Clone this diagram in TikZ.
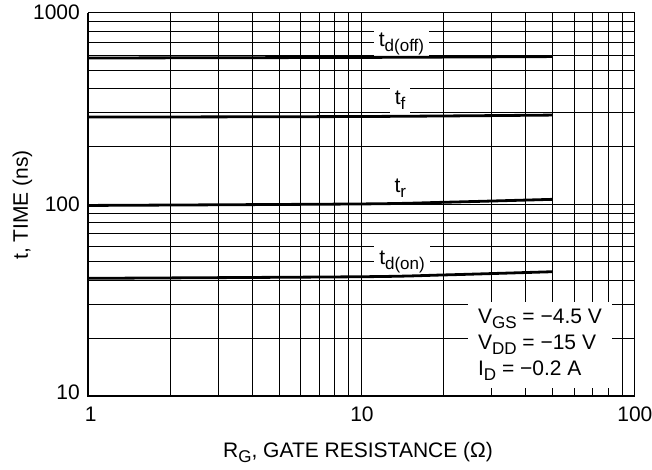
\documentclass[tikz,border=0pt]{standalone}
\usepackage{fontspec}
\setmainfont{Liberation Sans}
\newcommand{\lowsub}[1]{\raisebox{-5pt}{\fontsize{17}{17}\selectfont #1}}
\tikzset{
  gridline/.style={line width=0.9pt},
  curve/.style={line width=2.8pt, line cap=butt},
  curvelabel/.style={fill=white, inner xsep=5pt, inner ysep=5pt, anchor=base, font=\fontsize{21}{26}\selectfont},
  ticklabel/.style={inner sep=0pt, font=\fontsize{21}{26}\selectfont}
}
\begin{document}
\begin{tikzpicture}[x=273.3pt,y=191.5pt]
  \useasboundingbox (-0.322,-0.388) rectangle (2.0637,2.0663);

  % log grid, x = log10(R_G), y = log10(t) - 1
  \foreach \d in {0,1}{
    \foreach \k in {2,...,9}{
      \draw[gridline] ({\d+log10(\k)},0) -- ({\d+log10(\k)},2);
      \draw[gridline] (0,{\d+log10(\k)}) -- (2,{\d+log10(\k)});
    }}
  \draw[gridline] (1,0) -- (1,2);
  \draw[gridline] (0,1) -- (2,1);
  \draw[line width=1pt] (0,2) -- (2,2) -- (2,0);
  \draw[line width=2pt] (0,2) -- (0,0) -- (2,0);

  % curve labels
  \node[curvelabel] (ldoff) at (1.147,1.821) {t\lowsub{d(off)}};
  \node[curvelabel] (lf) at (1.142,1.518) {t\lowsub{f}};
  \node[curvelabel] (lr) at (1.143,1.0585) {t\lowsub{r}};
  \node[curvelabel] (ldon) at (1.149,0.6825) {t\lowsub{d(on)}};

  % curves
  \draw[curve] plot[smooth] coordinates {(0,{log10(580)-1}) (1,{log10(584)-1}) ({log10(50)},{log10(590)-1})};
  \draw[curve] plot[smooth] coordinates {(0,{log10(285)-1}) (1,{log10(287)-1}) ({log10(50)},{log10(292)-1})};
  \draw[curve] plot[smooth] coordinates {(0,{log10(98.5)-1}) (1,{log10(100.3)-1}) ({log10(20)},{log10(102.3)-1}) ({log10(50)},{log10(106)-1})};
  \draw[curve] plot[smooth] coordinates {(0,{log10(41)-1}) (1,{log10(41.8)-1}) ({log10(20)},{log10(42.7)-1}) ({log10(50)},{log10(44.4)-1})};

  % test conditions
  \node[fill=white, anchor=north west, align=left, inner xsep=10pt, inner ysep=7pt,
        font=\fontsize{21}{26}\selectfont] (cond) at (1.390,0.489)
        {V\lowsub{GS} = −4.5 V\\V\lowsub{DD} = −15 V\\I\lowsub{D} = −0.2 A};

  % tick labels
  \node[ticklabel, anchor=east] (y1000) at ([xshift=-8pt]0,2) {1000};
  \node[ticklabel, anchor=east] (y100) at ([xshift=-8pt]0,1) {100};
  \node[ticklabel, anchor=east] (y10) at ([xshift=-8pt]0,0.02) {10};
  \node[ticklabel] (x1) at (0.0102,-0.0945) {1};
  \node[ticklabel] (x10) at (1.0025,-0.0945) {10};
  \node[ticklabel] (x100) at (2.001,-0.0945) {100};

  % axis titles
  \node[ticklabel, rotate=90] (ytitle) at (-0.2397,0.996) {t, TIME (ns)};
  \node[ticklabel] (xtitle) at (0.988,-0.294) {R\lowsub{G}, GATE RESISTANCE (Ω)};
\end{tikzpicture}
\end{document}
